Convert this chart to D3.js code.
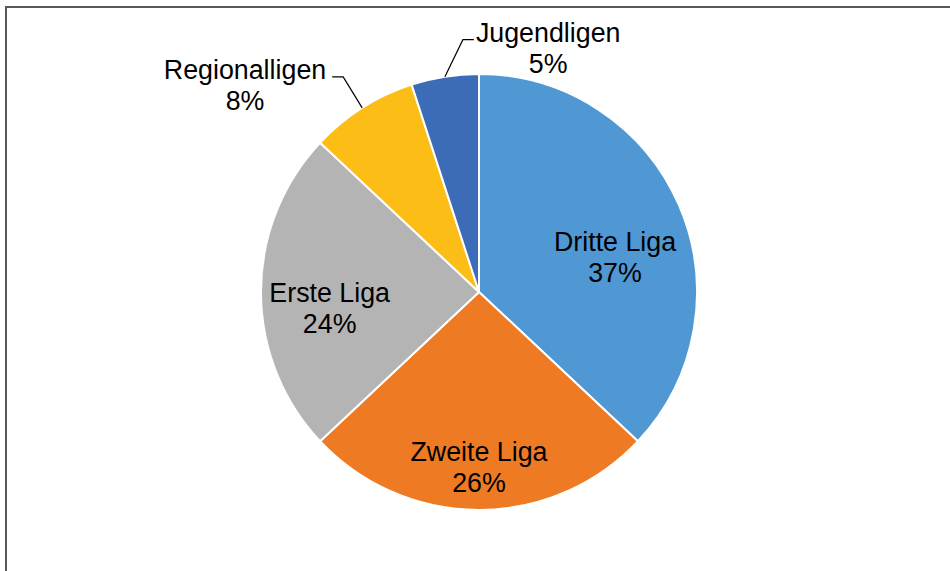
<!DOCTYPE html>
<html>
<head>
<meta charset="utf-8">
<script src="https://cdn.jsdelivr.net/npm/d3@7"></script>
<style>
  html, body { margin: 0; padding: 0; background: #fff; }
  svg { display: block; }
  text { font-family: "Liberation Sans", Arial, sans-serif; fill: #000; }
</style>
</head>
<body>
<svg id="chart"></svg>
<script>
// data
var categories = ['Dritte Liga', 'Zweite Liga', 'Erste Liga', 'Regionalligen', 'Jugendligen'];
var shares = [37, 26, 24, 8, 5];
var colors = ['#4f98d4', '#ee7b24', '#b4b4b4', '#fcbd16', '#3c6cb7'];

var width = 950, height = 571;
var cx = 479, cy = 292, radius = 218;
var fontSize = 26.8, lineGap = 31;

var svg = d3.select('#chart')
    .attr('width', width)
    .attr('height', height);

// chart frame (right and bottom edges fall outside the window)
svg.append('rect')
    .attr('x', 6)
    .attr('y', 7)
    .attr('width', 960)
    .attr('height', 600)
    .attr('fill', 'none')
    .attr('stroke', '#595959')
    .attr('stroke-width', 2);

var data = categories.map(function (c, i) {
    return { name: c, value: shares[i], color: colors[i] };
});

var pie = d3.pie()
    .sort(null)
    .value(function (d) { return d.value; });

var arc = d3.arc()
    .innerRadius(0)
    .outerRadius(radius);

var arcs = pie(data);

var g = svg.append('g')
    .attr('transform', 'translate(' + cx + ',' + cy + ')');

g.selectAll('path.slice')
    .data(arcs)
    .enter()
    .append('path')
    .attr('class', 'slice')
    .attr('d', arc)
    .attr('fill', function (d) { return d.data.color; })
    .attr('stroke', '#fff')
    .attr('stroke-width', 2)
    .attr('stroke-linejoin', 'round');

// label placement: inside labels sit on a ring, outside ones get a leader line
var labelCfg = [
    { inside: true, r: 0.68, dy: 24 },
    { inside: true, r: 0.80, dy: 0 },
    { inside: true, r: 0.685, dy: 16 },
    { inside: false, elbow: [-19, -31], run: -11, anchor: 'end' },
    { inside: false, elbow: [18, -37], run: 11, anchor: 'start' }
];

function mid(d) { return (d.startAngle + d.endAngle) / 2; }

function measure(s) {
    var tmp = svg.append('text')
        .style('font-size', fontSize + 'px')
        .text(s);
    var w = tmp.node().getComputedTextLength();
    tmp.remove();
    return w;
}

arcs.forEach(function (d, i) {
    var cfg = labelCfg[i];
    var a = mid(d);
    var lines = [d.data.name, d.data.value + '%'];
    var x, yTop;

    if (cfg.inside) {
        var lr = radius * cfg.r;
        x = Math.sin(a) * lr;
        var yc = -Math.cos(a) * lr + cfg.dy;
        yTop = yc - lineGap / 2 + fontSize * 0.36;
    } else {
        // edge point at the slice middle, then elbow, then short run to the text
        var ex = Math.sin(a) * radius, ey = -Math.cos(a) * radius;
        var bx = ex + cfg.elbow[0], by = ey + cfg.elbow[1];
        var tx = bx + cfg.run;
        g.append('path')
            .attr('d', d3.line()([[ex, ey], [bx, by], [tx, by]]))
            .attr('fill', 'none')
            .attr('stroke', '#000')
            .attr('stroke-width', 1.2);
        var textW = measure(d.data.name);
        x = cfg.anchor === 'end' ? tx - 6 - textW / 2 : tx + 2 + textW / 2;
        yTop = by + 2;
    }

    var t = g.append('text')
        .attr('text-anchor', 'middle')
        .style('font-size', fontSize + 'px');
    lines.forEach(function (s, k) {
        t.append('tspan')
            .attr('x', x)
            .attr('y', yTop + k * lineGap)
            .text(s);
    });
});
</script>
</body>
</html>
